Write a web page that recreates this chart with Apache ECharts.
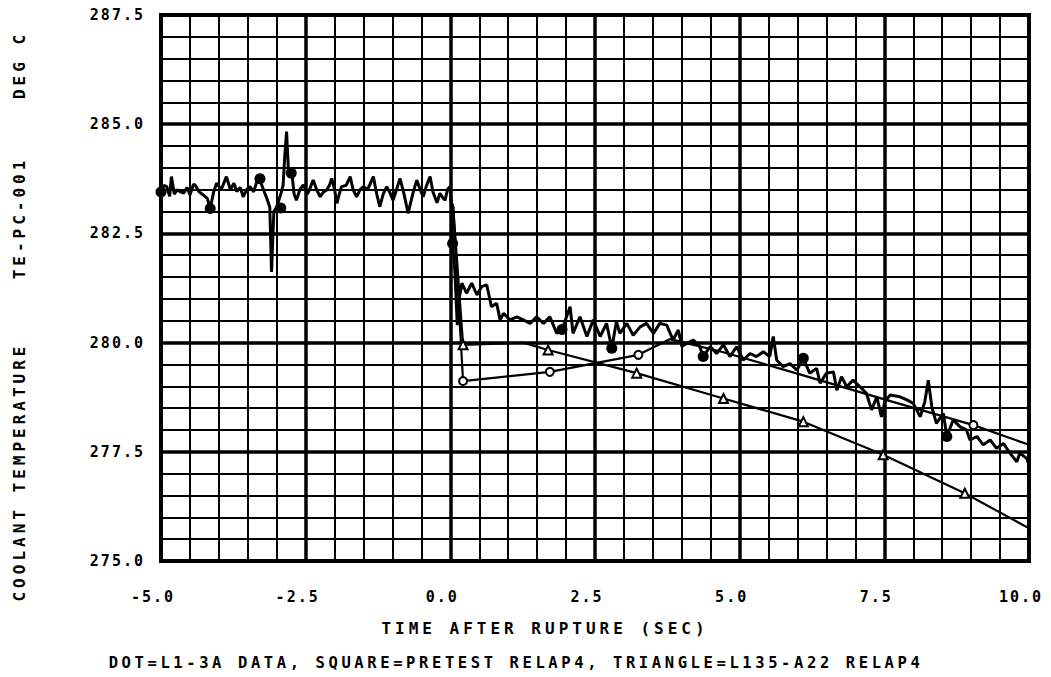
<!DOCTYPE html>
<html>
<head>
<meta charset="utf-8">
<script src="https://cdn.jsdelivr.net/npm/echarts@6/dist/echarts.min.js"></script>
<style>
html,body{margin:0;padding:0;background:#fff;}
#chart{width:1051px;height:677px;}
#chart text[style*="15px"]{letter-spacing:2px;}
#chart text[style*="16px"]{letter-spacing:4px;}
#chart text[style*="15.5px"]{letter-spacing:3.6px;}
</style>
</head>
<body>
<div id="chart"></div>
<script>
// ---- data (time s, temperature deg C) ----
const dataT = [-5.00,-4.95,-4.90,-4.85,-4.82,-4.77,-4.72,-4.66,-4.61,-4.55,-4.50,-4.44,-4.41,-4.34,-4.27,-4.20,-4.15,-4.09,-4.04,-3.96,-3.87,-3.80,-3.74,-3.69,-3.63,-3.58,-3.52,-3.46,-3.40,-3.34,-3.29,-3.23,-3.17,-3.12,-3.09,-3.05,-3.00,-2.93,-2.89,-2.86,-2.83,-2.80,-2.77,-2.74,-2.70,-2.66,-2.60,-2.54,-2.47,-2.42,-2.37,-2.31,-2.25,-2.19,-2.14,-2.09,-2.05,-2.00,-1.96,-1.92,-1.88,-1.80,-1.73,-1.68,-1.62,-1.56,-1.50,-1.43,-1.38,-1.33,-1.28,-1.22,-1.16,-1.10,-1.05,-0.99,-0.93,-0.87,-0.80,-0.73,-0.65,-0.58,-0.52,-0.47,-0.41,-0.35,-0.30,-0.23,-0.18,-0.12,-0.09,-0.05,-0.01,0.02,0.04,0.08,0.12,0.15,0.20,0.28,0.37,0.46,0.54,0.63,0.71,0.80,0.86,0.92,1.03,1.15,1.26,1.38,1.49,1.61,1.72,1.84,1.93,2.07,2.12,2.24,2.36,2.47,2.59,2.70,2.79,2.87,2.93,3.05,3.16,3.28,3.39,3.51,3.62,3.74,3.80,3.85,3.94,4.00,4.08,4.20,4.31,4.37,4.49,4.60,4.72,4.83,4.95,5.06,5.18,5.29,5.41,5.52,5.58,5.64,5.75,5.87,5.99,6.10,6.21,6.33,6.39,6.50,6.62,6.68,6.76,6.85,6.96,7.08,7.19,7.28,7.37,7.45,7.51,7.60,7.77,7.89,8.00,8.12,8.20,8.26,8.32,8.40,8.52,8.58,8.69,8.81,8.92,8.98,9.10,9.21,9.33,9.44,9.56,9.67,9.79,9.84,9.96,10.00];
const dataV = [283.45,283.60,283.57,283.35,283.80,283.40,283.50,283.45,283.42,283.55,283.38,283.62,283.61,283.45,283.38,283.30,283.07,283.45,283.65,283.50,283.80,283.50,283.65,283.46,283.55,283.34,283.50,283.57,283.45,283.70,283.72,283.50,283.30,283.10,281.62,283.00,283.11,283.40,283.60,284.30,284.83,284.00,283.88,283.90,283.40,283.26,283.50,283.61,283.40,283.55,283.72,283.50,283.34,283.45,283.49,283.60,283.76,283.50,283.19,283.40,283.57,283.60,283.80,283.50,283.34,283.50,283.57,283.50,283.65,283.80,283.45,283.11,283.40,283.57,283.45,283.26,283.50,283.76,283.40,282.96,283.40,283.72,283.50,283.34,283.60,283.80,283.45,283.20,283.42,283.30,283.26,283.50,283.57,283.20,282.27,281.60,280.40,281.00,281.36,281.13,281.36,281.09,281.28,281.32,280.82,280.90,280.52,280.67,280.52,280.59,280.52,280.44,280.59,280.44,280.59,280.21,280.30,280.82,280.21,280.59,280.14,280.52,280.14,280.44,279.87,280.48,280.21,280.44,280.17,280.36,280.44,280.21,280.44,280.40,280.21,280.06,280.29,279.91,279.98,280.06,279.91,279.68,279.91,279.75,279.95,279.68,279.91,279.60,279.75,279.68,279.79,279.68,280.14,279.60,279.45,279.52,279.37,279.64,279.30,279.41,279.07,279.30,279.33,278.91,279.22,278.99,279.14,278.99,278.84,278.46,278.76,278.30,278.65,278.80,278.76,278.69,278.61,278.30,278.65,279.14,278.53,278.15,278.38,277.85,278.23,278.07,278.00,277.77,277.85,277.66,277.77,277.58,277.69,277.47,277.27,277.47,277.35,277.20];
// filled dots placed on the L1-3A data trace
const dotT = [-5.00,-4.15,-3.29,-2.93,-2.75,0.04,1.93,2.79,4.37,6.10,8.58];
const dotV = [283.45,283.07,283.75,283.08,283.88,282.27,280.30,279.87,279.68,279.64,277.85];
// pretest RELAP4 (square)
const preT = [0.00,0.05,0.22,1.72,3.25,3.80,4.72,6.10,7.50,9.04,10.00];
const preV = [283.30,283.10,279.12,279.33,279.72,280.08,279.78,279.25,278.70,278.11,277.66];
const preMarked = [0,0,1,1,1,0,0,0,0,1,0];
// L135-A22 RELAP4 (triangle)
const triT = [0.00,0.05,0.22,1.26,1.69,3.22,4.72,6.10,7.48,8.89,10.00];
const triV = [283.30,283.10,279.95,280.00,279.83,279.30,278.72,278.19,277.43,276.55,275.75];
const triMarked = [0,0,1,0,1,1,1,1,1,1,0];
// axes
const xMin = -5, xMax = 10, xStep = 2.5;
const yMin = 275, yMax = 287.5, yStep = 2.5;
const xTitle = 'TIME AFTER RUPTURE (SEC)';
const footNote = 'DOT=L1-3A DATA, SQUARE=PRETEST RELAP4, TRIANGLE=L135-A22 RELAP4';
const yTitles = ['COOLANT TEMPERATURE', 'TE-PC-001', 'DEG C'];

const zip = (a, b) => a.map((t, i) => [t, b[i]]);
const marked = (a, b, m, sym) => a.map((t, i) => ({value: [t, b[i]], symbol: m[i] ? sym : 'none'}));

const FONT = 'DejaVu Sans Mono';
const chart = echarts.init(document.getElementById('chart'), null, {renderer: 'svg'});
const axisCommon = {
  type: 'value',
  axisLine: {show: false},
  axisTick: {show: false},
  splitLine: {show: true, lineStyle: {color: '#000', width: 3.5}},
  minorTick: {show: false, splitNumber: 5},
  minorSplitLine: {show: true, lineStyle: {color: '#000', width: 2}}
};
chart.setOption({
  animation: false,
  backgroundColor: '#fff',
  grid: {left: 161, right: 22, top: 15, bottom: 116, show: true, borderColor: '#000', borderWidth: 4, backgroundColor: 'transparent'},
  xAxis: Object.assign({}, axisCommon, {
    min: xMin, max: xMax, interval: xStep,
    axisLabel: {color: '#000', fontFamily: FONT, fontWeight: 'bold', fontSize: 15, margin: 28,
      padding: [0, 16, 0, 0], formatter: v => v.toFixed(1)}
  }),
  yAxis: Object.assign({}, axisCommon, {
    min: yMin, max: yMax, interval: yStep,
    axisLabel: {color: '#000', fontFamily: FONT, fontWeight: 'bold', fontSize: 15, margin: 16,
      formatter: v => v.toFixed(1)}
  }),
  series: [
    {type: 'line', name: 'L1-3A DATA', data: zip(dataT, dataV), showSymbol: false,
      lineStyle: {color: '#000', width: 3}, z: 5},
    {type: 'scatter', name: 'DOT', data: zip(dotT, dotV), symbol: 'circle', symbolSize: 11,
      itemStyle: {color: '#000', opacity: 1}, z: 6},
    {type: 'line', name: 'PRETEST RELAP4', data: marked(preT, preV, preMarked, 'emptyCircle'),
      showSymbol: true, showAllSymbol: true, symbolSize: 8,
      lineStyle: {color: '#000', width: 2.2}, itemStyle: {color: '#000', borderColor: '#000', borderWidth: 2}, z: 4},
    {type: 'line', name: 'L135-A22 RELAP4', data: marked(triT, triV, triMarked, 'emptyTriangle'),
      showSymbol: true, showAllSymbol: true, symbolSize: 9,
      lineStyle: {color: '#000', width: 2.2}, itemStyle: {color: '#000', borderColor: '#000', borderWidth: 2}, z: 4}
  ],
  graphic: [
    {type: 'text', x: 545, y: 628, style: {text: xTitle, fill: '#000', font: 'bold 16px "' + FONT + '"', textAlign: 'center', textVerticalAlign: 'middle'}},
    {type: 'text', x: 516, y: 663, style: {text: footNote, fill: '#000', font: 'bold 15.5px "' + FONT + '"', textAlign: 'center', textVerticalAlign: 'middle'}},
    {type: 'text', x: 19, y: 472, rotation: Math.PI / 2, style: {text: yTitles[0], fill: '#000', font: 'bold 16px "' + FONT + '"', textAlign: 'center', textVerticalAlign: 'middle'}},
    {type: 'text', x: 19, y: 218, rotation: Math.PI / 2, style: {text: yTitles[1], fill: '#000', font: 'bold 16px "' + FONT + '"', textAlign: 'center', textVerticalAlign: 'middle'}},
    {type: 'text', x: 19, y: 65, rotation: Math.PI / 2, style: {text: yTitles[2], fill: '#000', font: 'bold 16px "' + FONT + '"', textAlign: 'center', textVerticalAlign: 'middle'}}
  ]
});
</script>
</body>
</html>
